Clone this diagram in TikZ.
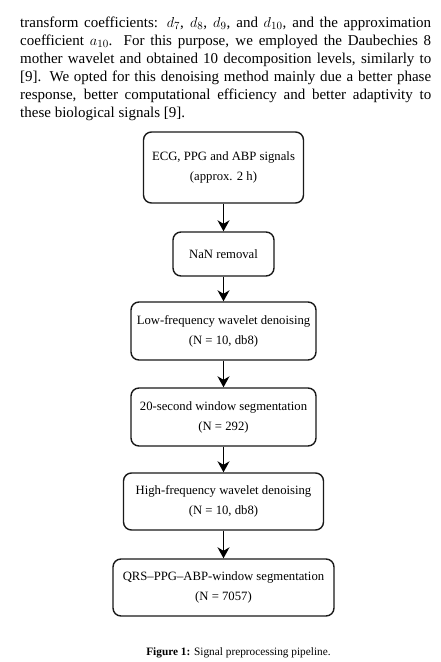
\documentclass[tikz,border=0pt]{standalone}
\usepackage{fontspec}
\setmainfont{Liberation Serif}
\usetikzlibrary{arrows.meta}
\begin{document}
\begin{tikzpicture}[x=1pt,y=-1pt,
  stepbox/.style={draw=black!90, line width=1.4pt, rounded corners=8pt, align=center,
    inner sep=0pt, font=\fontsize{12.7}{20}\selectfont},
  flow/.style={draw=black, line width=1.4pt, -{Stealth[length=11pt,width=12pt,inset=3.5pt]}}]
\useasboundingbox (0,0) rectangle (441,662);
\fill[white] (0,0) rectangle (441,662);
\node[anchor=base west, text width=411pt, align=justify, inner sep=0pt,
  font=\fontsize{15}{18}\selectfont] (para) at (20,27)
  {transform coefficients: $d_7$, $d_8$, $d_9$, and $d_{10}$, and the approximation\linebreak
   coefficient $a_{10}$. For this purpose, we employed the Daubechies 8\linebreak
   mother wavelet and obtained 10 decomposition levels, similarly to\linebreak\relax
   {[}9]. We opted for this denoising method mainly due a better phase\linebreak
   response, better computational efficiency and better adaptivity to\linebreak
   these biological signals [9].};
\node[stepbox, minimum width=160pt, minimum height=71pt] (b1) at (223.5,167.5)
  {ECG, PPG and ABP signals\\(approx. 2 h)};
\node[stepbox, minimum width=101pt, minimum height=44pt] (b2) at (223.5,254)
  {NaN removal};
\node[stepbox, minimum width=185pt, minimum height=58pt] (b3) at (223.5,331)
  {Low-frequency wavelet denoising\\(N = 10, db8)};
\node[stepbox, minimum width=185pt, minimum height=58pt] (b4) at (223.5,417)
  {20-second window segmentation\\(N = 292)};
\node[stepbox, minimum width=200pt, minimum height=57pt] (b5) at (223.5,501.5)
  {High-frequency wavelet denoising\\(N = 10, db8)};
\node[stepbox, minimum width=221pt, minimum height=57pt] (b6) at (223.5,587.5)
  {QRS--PPG--ABP-window segmentation\\(N = 7057)};
\draw[flow] (b1) -- (b2);
\draw[flow] (b2) -- (b3);
\draw[flow] (b3) -- (b4);
\draw[flow] (b4) -- (b5);
\draw[flow] (b5) -- (b6);
\node[anchor=base, inner sep=0pt, font=\fontsize{11.3}{14}\selectfont] (cap) at (238.5,655)
  {\textbf{Figure 1:} Signal preprocessing pipeline.};
\end{tikzpicture}
\end{document}
